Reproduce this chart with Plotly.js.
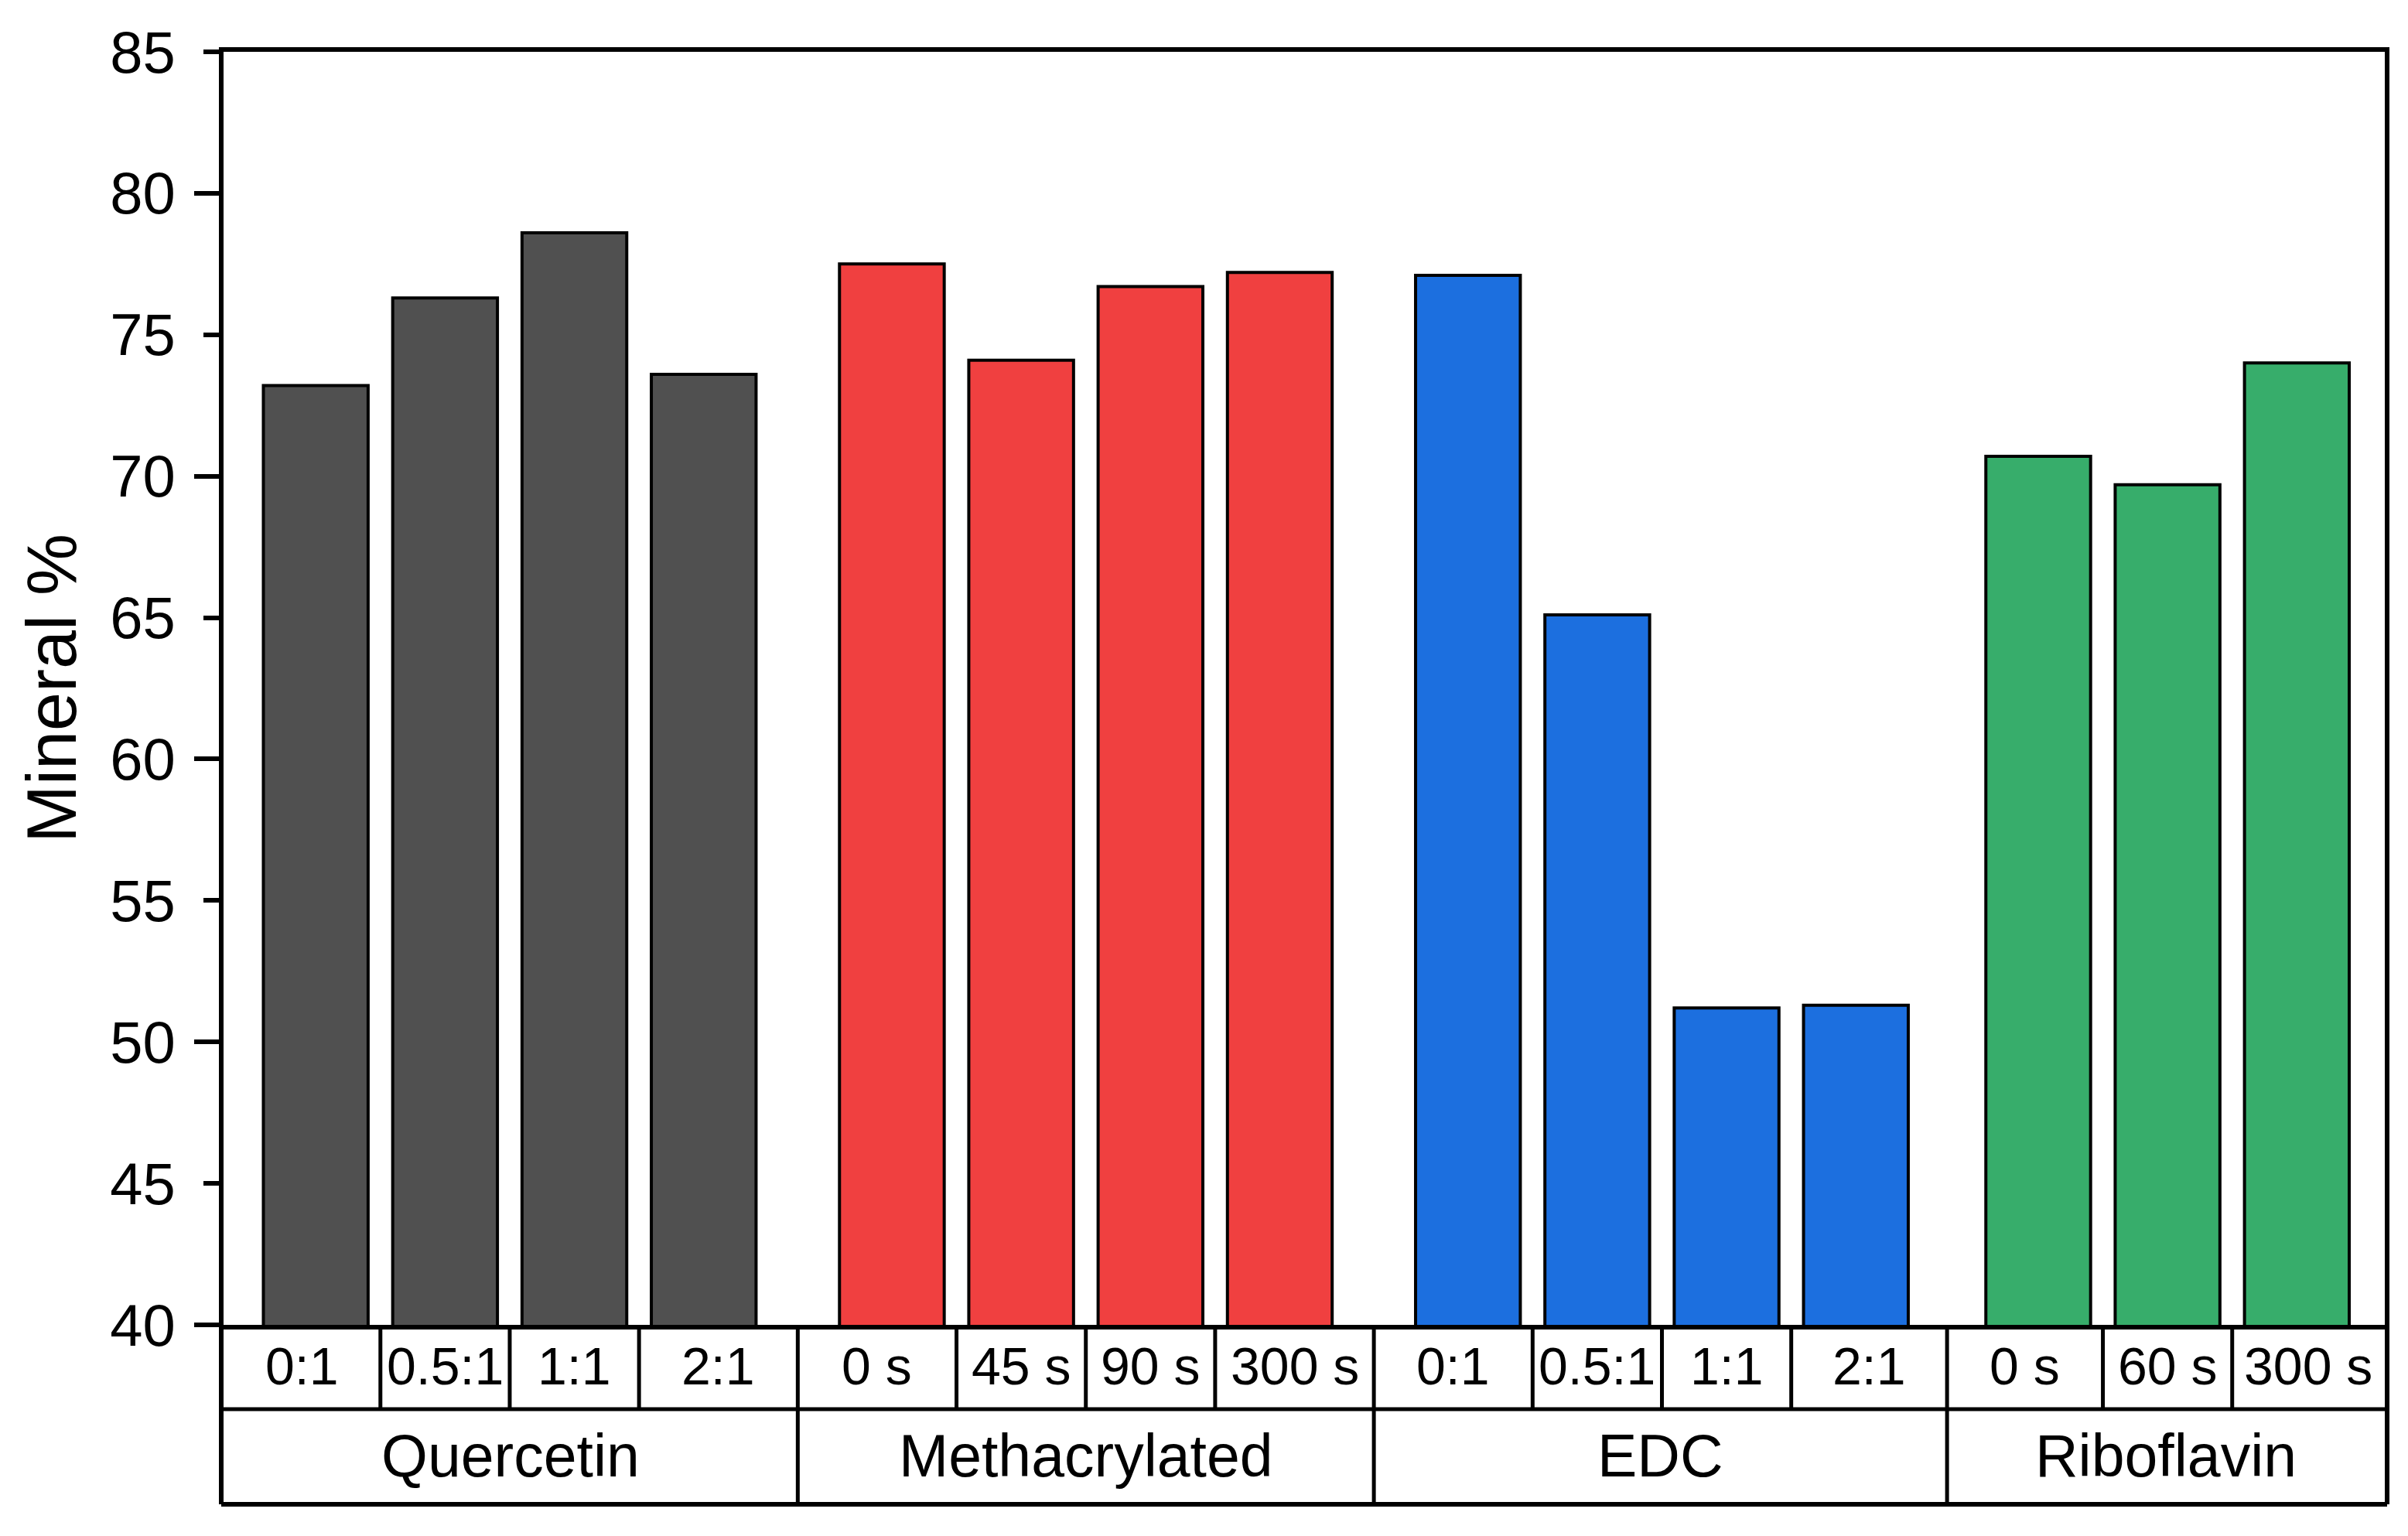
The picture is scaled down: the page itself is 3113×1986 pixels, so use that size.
<!DOCTYPE html>
<html>
<head>
<meta charset="utf-8">
<script src="https://cdn.plot.ly/plotly-3.0.1.min.js"></script>
<style>
  html, body { margin: 0; padding: 0; background: #ffffff; }
  #chart { width: 3113px; height: 1986px; }
</style>
</head>
<body>
<div id="chart"></div>
<script>
// ---- Data ----
const groupNames = ['Quercetin', 'Methacrylated', 'EDC', 'Riboflavin'];

const quercetinLabels = ['0:1', '0.5:1', '1:1', '2:1'];
const quercetinValues = [73.2, 76.3, 78.6, 73.6];

const methacrylatedLabels = ['0 s', '45 s', '90 s', '300 s'];
const methacrylatedValues = [77.5, 74.1, 76.7, 77.2];

const edcLabels = ['0:1', '0.5:1', '1:1', '2:1'];
const edcValues = [77.1, 65.1, 51.2, 51.3];

const riboflavinLabels = ['0 s', '60 s', '300 s'];
const riboflavinValues = [70.7, 69.7, 74.0];

const yTickVals = [40, 45, 50, 55, 60, 65, 70, 75, 80, 85];
const yTitle = 'Mineral %';

// ---- Styling ----
const groupColors = ['#505050', '#F04040', '#1C6FDF', '#37AD6B'];
const FONT = 'Liberation Sans, Arial, Helvetica, sans-serif';
const W = 3113, H = 1986;
const margin = { l: 289, r: 30, t: 67, b: 273 };
const plotW = W - margin.l - margin.r;
const plotH = H - margin.t - margin.b;
const groupGaps = [0.455, 0.455, 0.41];
const barWidth = 0.81;
const axisLW = 6;
const tableLW = 5;
const row1Bottom = -(1822 - 1713) / plotH;
const row2Bottom = -(1945 - 1713) / plotH;

const groupLabels = [quercetinLabels, methacrylatedLabels, edcLabels, riboflavinLabels];
const groupValues = [quercetinValues, methacrylatedValues, edcValues, riboflavinValues];

// positions on a linear x axis, computed from the arrays
const groupPositions = [];
let cursor = 0;
groupLabels.forEach((labels, gi) => {
  if (gi > 0) cursor += groupGaps[gi - 1];
  groupPositions.push(labels.map((_, i) => cursor + i));
  cursor += labels.length;
});
const firstX = groupPositions[0][0];
const lastGroup = groupPositions[groupPositions.length - 1];
const lastX = lastGroup[lastGroup.length - 1];
const xRange = [firstX - 0.713, lastX + 0.68];

const traces = groupNames.map((name, gi) => ({
  type: 'bar',
  name: name,
  x: groupPositions[gi],
  y: groupValues[gi],
  width: barWidth,
  marker: { color: groupColors[gi], line: { color: '#000000', width: 4 } },
  hoverinfo: 'skip',
  showlegend: false
}));
// empty trace to carry the long major ticks axis
traces.push({ type: 'scatter', x: [], y: [], yaxis: 'y2', showlegend: false, hoverinfo: 'skip' });

// table shapes & annotations
const shapes = [];
const annotations = [];
const lineStyle = { color: '#000000', width: tableLW };
const edgeL = -(axisLW / 2) / plotW;
const edgeR = 1 + (axisLW / 2) / plotW;

// outer borders of table
shapes.push({ type: 'line', xref: 'paper', yref: 'paper', x0: edgeL, x1: edgeL, y0: 0, y1: row2Bottom, line: { color: '#000', width: axisLW } });
shapes.push({ type: 'line', xref: 'paper', yref: 'paper', x0: edgeR, x1: edgeR, y0: 0, y1: row2Bottom, line: { color: '#000', width: axisLW } });
shapes.push({ type: 'line', xref: 'paper', yref: 'paper', x0: edgeL, x1: edgeR, y0: row1Bottom, y1: row1Bottom, line: lineStyle });
shapes.push({ type: 'line', xref: 'paper', yref: 'paper', x0: edgeL, x1: edgeR, y0: row2Bottom, y1: row2Bottom, line: { color: '#000', width: axisLW } });

// group boundaries in data units
const boundaries = [xRange[0]];
for (let gi = 0; gi < groupPositions.length - 1; gi++) {
  const xs = groupPositions[gi];
  boundaries.push((xs[xs.length - 1] + groupPositions[gi + 1][0]) / 2);
}
boundaries.push(xRange[1]);

groupPositions.forEach((xs, gi) => {
  const cellEdges = [boundaries[gi]];
  for (let i = 0; i < xs.length - 1; i++) {
    const mx = (xs[i] + xs[i + 1]) / 2;
    cellEdges.push(mx);
    shapes.push({ type: 'line', xref: 'x', yref: 'paper', x0: mx, x1: mx, y0: 0, y1: row1Bottom, line: lineStyle });
  }
  cellEdges.push(boundaries[gi + 1]);
  if (gi < groupPositions.length - 1) {
    const bx = boundaries[gi + 1];
    shapes.push({ type: 'line', xref: 'x', yref: 'paper', x0: bx, x1: bx, y0: 0, y1: row2Bottom, line: lineStyle });
  }
  // row 1 labels, centred in their cells
  xs.forEach((x, i) => {
    annotations.push({
      xref: 'x', yref: 'paper', x: (cellEdges[i] + cellEdges[i + 1]) / 2, y: row1Bottom / 2 + 0.001,
      text: groupLabels[gi][i], showarrow: false,
      xanchor: 'center', yanchor: 'middle',
      font: { family: FONT, size: 68, color: '#000' }
    });
  });
  // row 2 group label
  annotations.push({
    xref: 'x', yref: 'paper', x: (boundaries[gi] + boundaries[gi + 1]) / 2, y: (row1Bottom + row2Bottom) / 2 + 0.001,
    text: groupNames[gi], showarrow: false,
    xanchor: 'center', yanchor: 'middle',
    font: { family: FONT, size: 77, color: '#000' }
  });
});

const yRange = [yTickVals[0], yTickVals[yTickVals.length - 1]];

const layout = {
  width: W, height: H,
  margin: margin,
  paper_bgcolor: '#ffffff',
  plot_bgcolor: '#ffffff',
  barmode: 'overlay',
  showlegend: false,
  font: { family: FONT, color: '#000' },
  xaxis: {
    range: xRange,
    showline: true, mirror: true, linecolor: '#000', linewidth: axisLW,
    ticks: '', showticklabels: false, showgrid: false, zeroline: false,
    fixedrange: true
  },
  yaxis: {
    range: yRange,
    tickvals: yTickVals,
    ticks: 'outside', ticklen: 20, tickwidth: 6, tickcolor: '#000',
    ticklabelstandoff: 21,
    tickfont: { family: FONT, size: 76, color: '#000' },
    showline: true, mirror: true, linecolor: '#000', linewidth: axisLW,
    showgrid: false, zeroline: false,
    title: { text: yTitle, font: { family: FONT, size: 90, color: '#000' }, standoff: 16 },
    fixedrange: true
  },
  yaxis2: {
    overlaying: 'y', side: 'left', anchor: 'x',
    range: yRange,
    tickvals: yTickVals.filter(v => v % 10 === 0),
    ticks: 'outside', ticklen: 37, tickwidth: 6, tickcolor: '#000',
    showticklabels: false, showline: false, showgrid: false, zeroline: false,
    fixedrange: true
  },
  shapes: shapes,
  annotations: annotations
};

Plotly.newPlot('chart', traces, layout, { staticPlot: true, displayModeBar: false });
</script>
</body>
</html>
